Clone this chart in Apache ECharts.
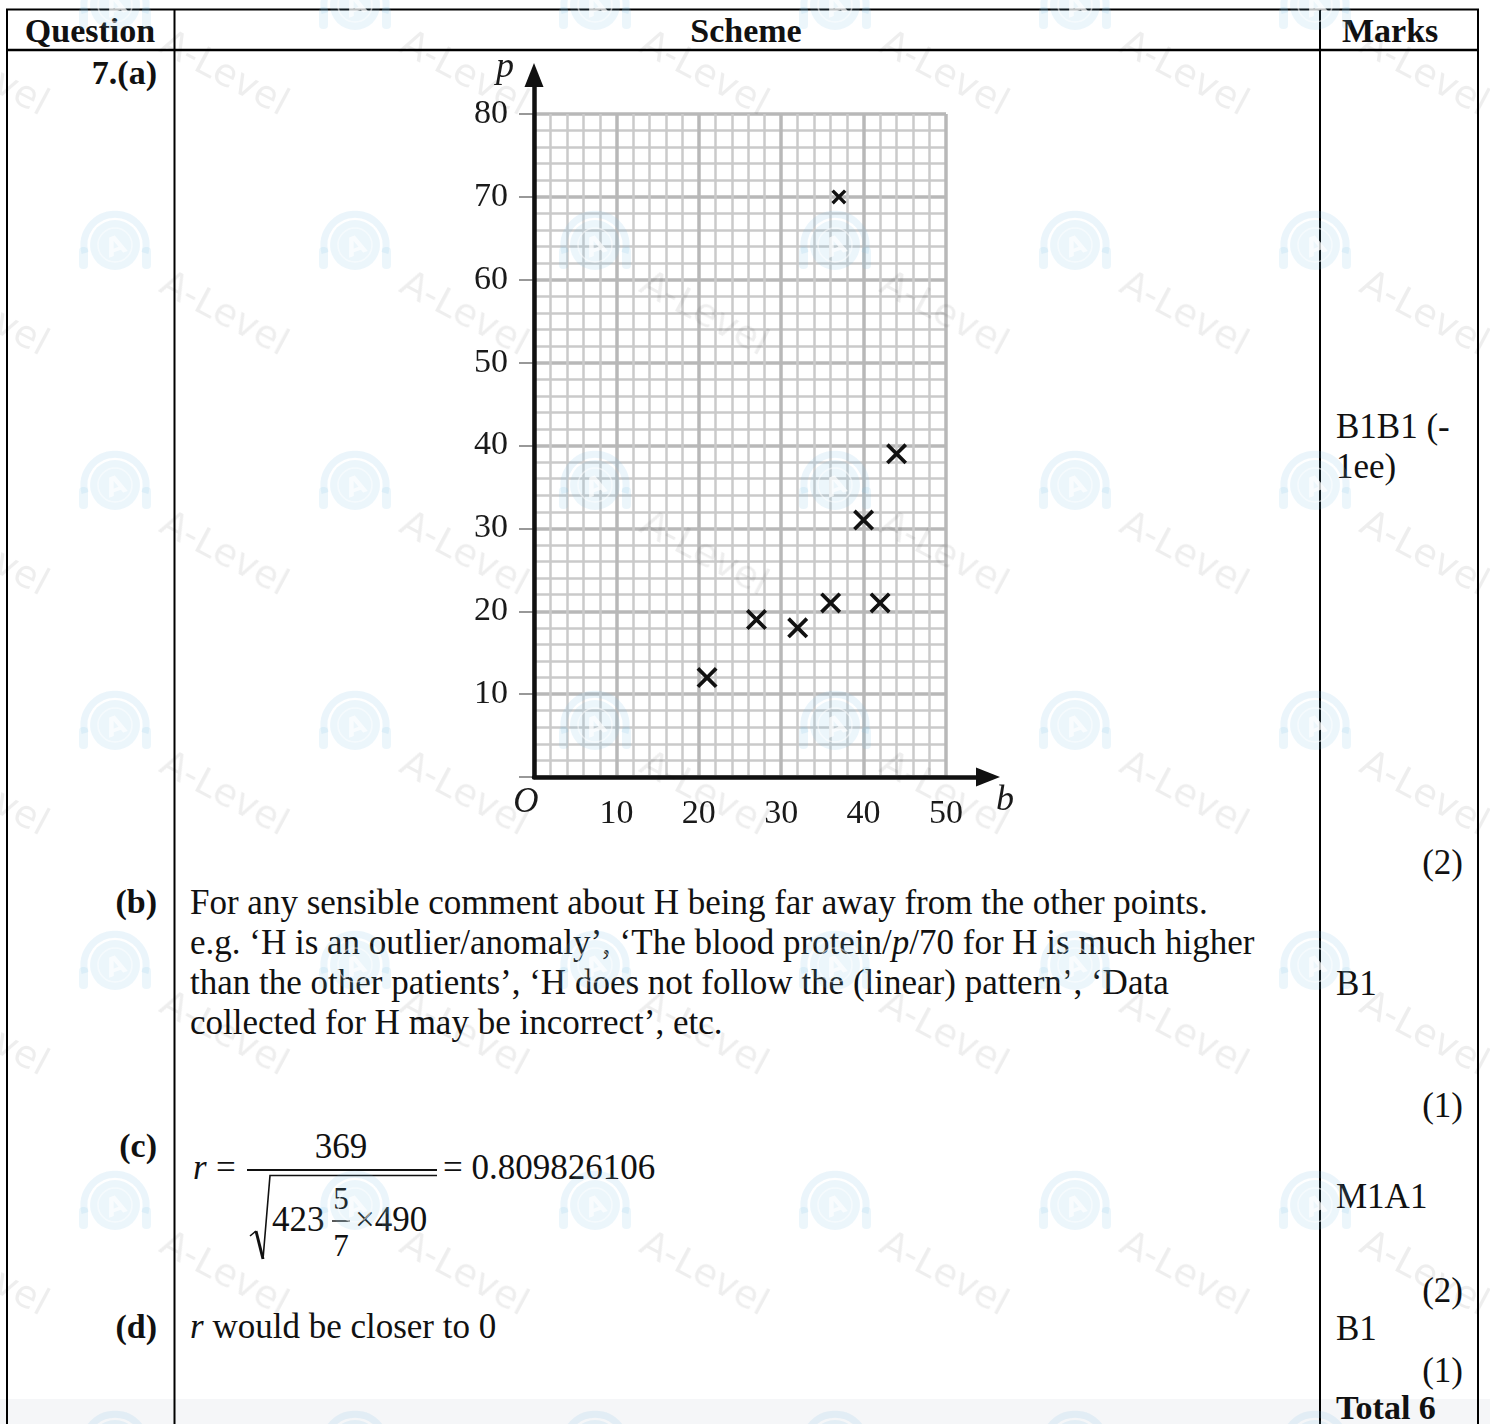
<!DOCTYPE html>
<html>
<head>
<meta charset="utf-8">
<script src="https://cdn.jsdelivr.net/npm/echarts@6/dist/echarts.min.js"></script>
<style>
  html, body { margin: 0; padding: 0; background: #ffffff; }
  #wrap { position: relative; width: 1490px; height: 1424px; overflow: hidden; background: #fff; }
  #page, #wm, #chart { position: absolute; left: 0; top: 0; width: 1490px; height: 1424px; }
  #page { z-index: 0; }
  #chart { z-index: 1; }
  #wm { z-index: 2; pointer-events: none; }
  svg text { font-family: 'Liberation Serif', 'Times New Roman', serif; fill: #111; }
</style>
</head>
<body>
<div id="wrap">
<svg id="page" width="1490" height="1424" xmlns="http://www.w3.org/2000/svg">
  <rect x="0" y="1399" width="1490" height="25" fill="#f5f6f8"/>
  <!-- table rules -->
  <line x1="6" y1="9.5" x2="1479" y2="9.5" stroke="#000" stroke-width="2"/>
  <line x1="6" y1="50" x2="1479" y2="50" stroke="#000" stroke-width="2.5"/>
  <line x1="7" y1="9" x2="7" y2="1424" stroke="#000" stroke-width="2"/>
  <line x1="174.5" y1="9" x2="174.5" y2="1424" stroke="#000" stroke-width="2"/>
  <line x1="1320" y1="9" x2="1320" y2="1424" stroke="#000" stroke-width="2"/>
  <line x1="1478" y1="9" x2="1478" y2="1424" stroke="#000" stroke-width="2"/>

  <!-- header -->
  <text x="90" y="42" font-size="34" font-weight="bold" text-anchor="middle">Question</text>
  <text x="746" y="42" font-size="34" font-weight="bold" text-anchor="middle">Scheme</text>
  <text x="1342" y="42" font-size="34" font-weight="bold">Marks</text>

  <!-- question labels -->
  <text x="157" y="84" font-size="34" font-weight="bold" text-anchor="end">7.(a)</text>
  <text x="157" y="913" font-size="34" font-weight="bold" text-anchor="end">(b)</text>
  <text x="157" y="1157" font-size="34" font-weight="bold" text-anchor="end">(c)</text>
  <text x="157" y="1338" font-size="34" font-weight="bold" text-anchor="end">(d)</text>

  <!-- (b) text -->
  <text x="190" y="914" font-size="35">For any sensible comment about H being far away from the other points.</text>
  <text x="190" y="954" font-size="35">e.g. ‘H is an outlier/anomaly’, ‘The blood protein/<tspan font-style="italic">p</tspan>/70 for H is much higher</text>
  <text x="190" y="994" font-size="35">than the other patients’, ‘H does not follow the (linear) pattern’, ‘Data</text>
  <text x="190" y="1034" font-size="35">collected for H may be incorrect’, etc.</text>

  <!-- (c) formula -->
  <text x="193" y="1179" font-size="35" font-style="italic">r</text>
  <text x="216" y="1179" font-size="35">=</text>
  <text x="341" y="1158" font-size="35" text-anchor="middle">369</text>
  <line x1="247" y1="1170" x2="437" y2="1170" stroke="#111" stroke-width="1.8"/>
  <path d="M250,1236 L256,1231" stroke="#111" stroke-width="1.6" fill="none"/>
  <path d="M256,1231 L263,1259" stroke="#111" stroke-width="3" fill="none"/>
  <path d="M263,1259 L270,1175.5 L437,1175.5" stroke="#111" stroke-width="1.6" fill="none"/>
  <text x="272" y="1231" font-size="35">423</text>
  <text x="341" y="1209" font-size="31" text-anchor="middle">5</text>
  <line x1="332" y1="1221" x2="350" y2="1221" stroke="#111" stroke-width="1.4"/>
  <text x="341" y="1256" font-size="31" text-anchor="middle">7</text>
  <text x="355" y="1231" font-size="35">×490</text>
  <text x="443" y="1179" font-size="35">= 0.809826106</text>

  <!-- (d) -->
  <text x="190" y="1338" font-size="35"><tspan font-style="italic">r</tspan> would be closer to 0</text>

  <!-- marks -->
  <text x="1336" y="438" font-size="35">B1B1 (-</text>
  <text x="1336" y="478" font-size="35">1ee)</text>
  <text x="1463" y="874" font-size="35" text-anchor="end">(2)</text>
  <text x="1336" y="995" font-size="35">B1</text>
  <text x="1463" y="1117" font-size="35" text-anchor="end">(1)</text>
  <text x="1336" y="1208" font-size="35">M1A1</text>
  <text x="1463" y="1302" font-size="35" text-anchor="end">(2)</text>
  <text x="1336" y="1340" font-size="35">B1</text>
  <text x="1463" y="1382" font-size="35" text-anchor="end">(1)</text>
  <text x="1336" y="1419" font-size="34" font-weight="bold">Total 6</text>
</svg>
<div id="chart"></div>
<svg id="wm" width="1490" height="1424" xmlns="http://www.w3.org/2000/svg"></svg>
</div>
<script>
// ---- data ----
const bValues = [21, 27, 32, 36, 42, 40, 44];   // blood measure b
const pValues = [12, 19, 18, 21, 21, 31, 39];   // blood protein p
const outlierB = [37];                          // patient H
const outlierP = [70];
const xTickStep = 10;
const yTickStep = 10;
const xMax = 50;
const yMax = 80;

// ---- layout ----
const FONT = "'Liberation Serif','Times New Roman',serif";
const gLeft = 534, gTop = 114, gW = 412, gH = 663;
const pxX = gW / xMax, pxY = gH / yMax;
const arrowXEnd = 988, arrowYEnd = 75;
const ax2Max = (arrowXEnd - gLeft) / pxX;
const ay2Max = (gTop + gH - arrowYEnd) / pxY;

const crossPath = 'path://M0,2.5L2.5,0L10,7.5L17.5,0L20,2.5L12.5,10L20,17.5L17.5,20L10,12.5L2.5,20L0,17.5L7.5,10Z';
const crossPathBold = 'path://M0,3.2L3.2,0L10,6.8L16.8,0L20,3.2L13.2,10L20,16.8L16.8,20L10,13.2L3.2,20L0,16.8L6.8,10Z';

const mainPoints = bValues.map((b, i) => [b, pValues[i]]);
const hPoints = outlierB.map((b, i) => [b, outlierP[i]]);

const chart = echarts.init(document.getElementById('chart'), null, { renderer: 'canvas' });
chart.setOption({
  backgroundColor: 'transparent',
  animation: false,
  grid: [
    { left: gLeft, top: gTop, width: gW, height: gH, containLabel: false },
    { left: gLeft, top: gTop + gH - ay2Max * pxY, width: ax2Max * pxX, height: ay2Max * pxY, containLabel: false }
  ],
  xAxis: [
    {
      gridIndex: 0, type: 'value', min: 0, max: xMax, interval: xTickStep,
      axisLine: { show: false }, axisTick: { show: false },
      axisLabel: {
        fontFamily: FONT, fontSize: 34, color: '#1a1a1a', margin: 20,
        formatter: v => v === 0 ? '{o|O}' : String(v),
        rich: { o: { fontFamily: FONT, fontSize: 35, fontStyle: 'italic', color: '#1a1a1a', lineHeight: 12, padding: [0, 16, 0, 0] } }
      },
      splitLine: { show: true, lineStyle: { color: '#b8b8b8', width: 3.5 } },
      minorTick: { show: false, splitNumber: 5 },
      minorSplitLine: { show: true, lineStyle: { color: '#cacaca', width: 2.5 } }
    },
    {
      gridIndex: 1, type: 'value', min: 0, max: ax2Max, z: 10,
      axisLine: { show: true, lineStyle: { color: '#111', width: 4.5 }, symbol: ['none', 'triangle'], symbolSize: [19, 24] },
      axisTick: { show: false }, axisLabel: { show: false }, splitLine: { show: false },
      name: 'b', nameLocation: 'end', nameGap: 8,
      nameTextStyle: { fontFamily: FONT, fontSize: 36, fontStyle: 'italic', color: '#1a1a1a', verticalAlign: 'top', padding: [6, 0, 0, 0] }
    }
  ],
  yAxis: [
    {
      gridIndex: 0, type: 'value', min: 0, max: yMax, interval: yTickStep,
      axisLine: { show: false },
      axisTick: { show: true, length: 15, lineStyle: { color: '#777', width: 1.5 } },
      axisLabel: {
        fontFamily: FONT, fontSize: 34, color: '#1a1a1a', margin: 26,
        formatter: v => v === 0 ? '' : String(v)
      },
      splitLine: { show: true, lineStyle: { color: '#b8b8b8', width: 3.5 } },
      minorTick: { show: false, splitNumber: 5 },
      minorSplitLine: { show: true, lineStyle: { color: '#cacaca', width: 2.5 } }
    },
    {
      gridIndex: 1, type: 'value', min: 0, max: ay2Max, z: 10,
      axisLine: { show: true, lineStyle: { color: '#111', width: 4.5 }, symbol: ['none', 'triangle'], symbolSize: [19, 24] },
      axisTick: { show: false }, axisLabel: { show: false }, splitLine: { show: false },
      name: 'p', nameLocation: 'end', nameGap: -11,
      nameTextStyle: { fontFamily: FONT, fontSize: 36, fontStyle: 'italic', color: '#1a1a1a', padding: [0, 58, 0, 0] }
    }
  ],
  series: [
    {
      type: 'scatter', xAxisIndex: 0, yAxisIndex: 0, z: 20,
      data: mainPoints, symbol: crossPath, symbolSize: 21,
      itemStyle: { color: '#111', opacity: 1 }
    },
    {
      type: 'scatter', xAxisIndex: 0, yAxisIndex: 0, z: 20,
      data: hPoints, symbol: crossPathBold, symbolSize: 15,
      itemStyle: { color: '#111', opacity: 1 }
    }
  ]
});

// ---- watermark layer ----
(function () {
  const svg = document.getElementById('wm');
  let html = '';
  for (let y = 5; y <= 1445; y += 240) {
    for (let x = -125; x <= 1555; x += 240) {
      html += `<g>
        <path d="M${x - 30},${y + 8} A31,31 0 1 1 ${x + 30},${y + 8}" fill="none" stroke="rgba(120,190,230,0.15)" stroke-width="7"/>
        <circle cx="${x}" cy="${y}" r="25" fill="rgba(120,190,230,0.14)"/>
        <circle cx="${x}" cy="${y}" r="17" fill="none" stroke="rgba(255,255,255,0.5)" stroke-width="1.5"/>
        <rect x="${x - 36}" y="${y + 2}" width="9" height="22" rx="4" fill="rgba(120,190,230,0.14)"/>
        <rect x="${x + 27}" y="${y + 2}" width="9" height="22" rx="4" fill="rgba(120,190,230,0.14)"/>
        <text x="${x}" y="${y + 10}" font-size="26" text-anchor="middle" transform="rotate(-20 ${x} ${y})" style="font-family:'DejaVu Sans',sans-serif;fill:rgba(255,255,255,0.7);font-weight:bold">A</text>
        <text x="${x + 110}" y="${y + 80}" font-size="38" text-anchor="middle" transform="rotate(28 ${x + 110} ${y + 67})" style="font-family:'DejaVu Sans',sans-serif;fill:rgba(0,0,0,0.065)">A-Level</text>
      </g>`;
    }
  }
  svg.innerHTML = html;
})();
</script>
</body>
</html>
